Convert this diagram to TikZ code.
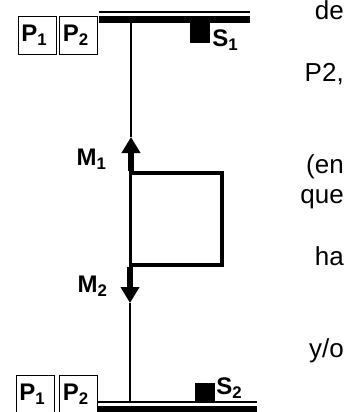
\documentclass[tikz,border=0pt]{standalone}
\usepackage{fontspec}
\setmainfont{Liberation Sans}
\usetikzlibrary{arrows.meta}
\tikzset{
    labelbox/.style={draw, line width=0.6pt, inner sep=0pt, minimum width=28.5pt, minimum height=28.5pt, font=\fontsize{18}{20}\selectfont\bfseries},
    tag/.style={inner sep=0pt, font=\fontsize{18}{20}\selectfont\bfseries},
    sidetext/.style={inner sep=0pt, anchor=base east, font=\fontsize{19.5}{22}\selectfont},
    bar/.style={fill=black, inner sep=0pt, minimum height=5pt},
    sensor/.style={fill=black, inner sep=0pt, minimum size=15pt},
    force/.style={line width=4.4pt, -{Triangle[length=12pt, width=13.5pt]}},
}
\newcommand{\boxlab}[2]{#1\textsubscript{#2}\kern 4pt}
\begin{document}
\begin{tikzpicture}[x=0.75pt, y=-0.75pt]
    \useasboundingbox (0,0) rectangle (358,412);

    \node[labelbox] (topone) at (37,35) {\boxlab{P}{1}};
    \node[labelbox] (toptwo) at (78.5,35) {\boxlab{P}{2}};
    \node[labelbox] (botone) at (35,394) {\boxlab{P}{1}};
    \node[labelbox] (bottwo) at (78.5,394) {\boxlab{P}{2}};

    \node[bar, minimum width=113pt] (topbar) at (174.5,19.5) {};
    \node[bar, minimum width=119pt] (botbar) at (177.5,409.5) {};
    \coordinate (topa) at (99,12);
    \coordinate (topb) at (250,12);
    \coordinate (bota) at (98,402);
    \coordinate (botb) at (257,402);
    \draw[line width=1.3pt] (topa) -- (topb);
    \draw[line width=1.3pt] (bota) -- (botb);

    \node[sensor] (sone) at (200,33) {};
    \node[sensor] (stwo) at (205,392.5) {};
    \node[tag, anchor=west] at (212,40) {S\textsubscript{1}};
    \node[tag, anchor=west] at (216,388) {S\textsubscript{2}};

    \node[draw, line width=2.5pt, inner sep=0pt, minimum width=68.5pt, minimum height=69pt] (frame) at (176.5,219) {};

    \coordinate (upend) at (131,137);
    \coordinate (downend) at (130,303);
    \draw[line width=1.1pt] (upend) -- (upend |- topbar.south);
    \draw[line width=1.1pt] (downend) -- (downend |- bota);
    \draw[force] (upend |- frame.north) -- (upend);
    \draw[force] (downend |- frame.south) -- (downend);

    \node[tag, anchor=east] at (107,159) {M\textsubscript{1}};
    \node[tag, anchor=east] at (108,286) {M\textsubscript{2}};

    \node[sidetext] at (344,19) {de};
    \node[sidetext] at (344,81) {P2,};
    \node[sidetext] at (344,173) {(en};
    \node[sidetext] at (344,203) {que};
    \node[sidetext] at (344,265) {ha};
    \node[sidetext] at (344,357) {y/o};
\end{tikzpicture}
\end{document}
